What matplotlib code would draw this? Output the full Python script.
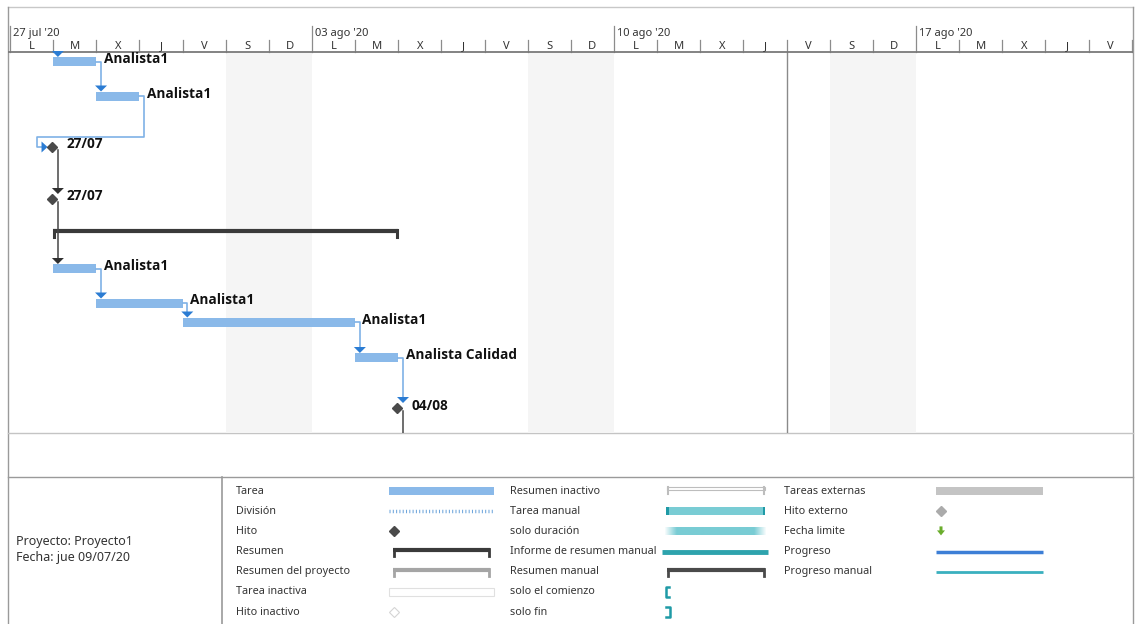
import numpy as np
import matplotlib
matplotlib.use("Agg")
import matplotlib.pyplot as plt
from matplotlib.patches import Rectangle, Polygon

plt.rcParams['font.family'] = ['Noto Sans', 'DejaVu Sans']
BOLD_FONT = ['Open Sans', 'DejaVu Sans']


# Timeline data (days counted from Monday 27 jul 2020)
week_labels = ["27 jul '20", "03 ago '20", "10 ago '20", "17 ago '20"]
day_letters = ["L", "M", "X", "J", "V", "S", "D"]
n_days = 26
weekend_days = [5, 6, 12, 13, 19, 20]
status_day = 18

# Tasks
task_names = ["Analista1", "Analista1", "27/07", "27/07", "", "Analista1",
              "Analista1", "Analista1", "Analista Calidad", "04/08"]
task_type = ["tarea", "tarea", "hito", "hito", "resumen", "tarea",
             "tarea", "tarea", "tarea", "hito"]
task_start = [1, 2, 1, 1, 1, 1, 2, 4, 8, 9]
task_finish = [2, 3, 1, 1, 9, 2, 4, 8, 9, 9]
links = [(0, 1), (1, 2), (2, 3), (3, 5), (5, 6), (6, 7), (7, 8), (8, 9)]

# Legend
legend_col1 = ["Tarea", "División", "Hito", "Resumen", "Resumen del proyecto",
               "Tarea inactiva", "Hito inactivo"]
legend_col2 = ["Resumen inactivo", "Tarea manual", "solo duración",
               "Informe de resumen manual", "Resumen manual",
               "solo el comienzo", "solo fin"]
legend_col3 = ["Tareas externas", "Hito externo", "Fecha limite", "Progreso",
               "Progreso manual"]
project_info = ["Proyecto: Proyecto1", "Fecha: jue 09/07/20"]


# layout (pixels)
W, H = 1135, 624
PX_DAY = 43.14
X0 = 10
row_y = [61.5, 96, 147, 199, 231, 268.5, 303, 322, 357.5, 408]
bar_h = 9
top_y, head_y, chart_bot, leg_top = 7, 52, 433, 477

BLUE = "#8ab9e9"
LINK_BLUE = "#7fb2e6"
ARROW_BLUE = "#2b7cd3"
DARK = "#474747"
GRID = "#8c8c8c"


def px2day(px):
    return (px - X0) / PX_DAY


fig = plt.figure(figsize=(W / 100, H / 100), dpi=100)

bg = fig.add_axes([0, 0, 1, 1])
bg.set_xlim(0, W)
bg.set_ylim(H, 0)
bg.axis("off")

ax = fig.add_axes([8 / W, (H - chart_bot) / H, (1133 - 8) / W, (chart_bot - top_y) / H])
ax.set_xlim(px2day(8), px2day(1133))
ax.set_ylim(chart_bot, top_y)
ax.axis("off")

# frame
bg.plot([8, 1133], [top_y, top_y], color="#c8c8c8", lw=1)
bg.plot([8, 8], [top_y, H], color="#9a9a9a", lw=1)
bg.plot([1133, 1133], [top_y, H], color="#9a9a9a", lw=1)
bg.plot([8, 1133], [chart_bot, chart_bot], color="#c4c4c4", lw=1)
bg.plot([8, 1133], [leg_top, leg_top], color="#9a9a9a", lw=1)
bg.plot([222, 222], [leg_top, H], color="#9a9a9a", lw=1.2)

# weekend shading + status line
for d in weekend_days:
    ax.add_patch(Rectangle((d, head_y), 1, chart_bot - head_y, fc="#f5f5f5", ec="none", zorder=0))
ax.plot([status_day, status_day], [head_y, chart_bot], color="#8a8a8a", lw=1, zorder=1)

# timescale header
for d in range(n_days + 1):
    if d % 7 == 0:
        ax.plot([d, d], [26, head_y], color=GRID, lw=0.9)
    else:
        ax.plot([d, d], [40, head_y], color=GRID, lw=0.9)
for d in range(n_days):
    ax.text(d + 0.5, 46.5, day_letters[d % 7], ha="center", va="center", fontsize=8, color="#333333")
for i, lab in enumerate(week_labels):
    ax.text(i * 7 + 0.06, 33.5, lab, ha="left", va="center", fontsize=8, color="#333333")
ax.plot([px2day(8), px2day(1133)], [head_y, head_y], color="#7a7a7a", lw=1.3)

hw = 6 / PX_DAY
ah = 6
off = 0.11


def arrow_down(x, ytip, color):
    ax.add_patch(Polygon([(x - hw, ytip - ah), (x + hw, ytip - ah), (x, ytip)], closed=True,
                         fc=color, ec="none", zorder=4))


def arrow_right(xtip, y, color):
    ax.add_patch(Polygon([(xtip - 6 / PX_DAY, y - 5.5), (xtip - 6 / PX_DAY, y + 5.5), (xtip, y)],
                         closed=True, fc=color, ec="none", zorder=4))


# links
for a, b in links:
    is_ms = task_type[a] == "hito"
    lc = DARK if is_ms else LINK_BLUE
    ac = "#303030" if is_ms else ARROW_BLUE
    xs = task_finish[a] + off
    ya = row_y[a]
    if task_type[b] == "hito":
        ytip = row_y[b] - 5
    else:
        ytip = row_y[b] - bar_h / 2
    if task_start[b] >= task_finish[a]:
        if is_ms:
            ax.plot([xs, xs], [ya + 3, ytip - 4], color=lc, lw=1.1, zorder=3)
        else:
            ax.plot([task_finish[a], xs, xs], [ya, ya, ytip - 4], color=lc, lw=1.2, zorder=3)
        arrow_down(xs, ytip, ac)
    else:
        ymid = row_y[b] - 10
        xl = task_start[b] - 0.37
        ax.plot([task_finish[a], xs, xs, xl, xl, task_start[b] - 0.25],
                [ya, ya, ymid, ymid, row_y[b], row_y[b]], color=lc, lw=1.2, zorder=3)
        arrow_right(task_start[b] - 0.13, row_y[b], ac)

# incoming link to first task and outgoing from last milestone
arrow_down(task_start[0] + off, row_y[0] - bar_h / 2, ARROW_BLUE)
ax.plot([task_finish[9] + off] * 2, [row_y[9] + 3, chart_bot], color=DARK, lw=1.1, zorder=3)

# bars, milestones, summary
for i in range(len(task_names)):
    y = row_y[i]
    if task_type[i] == "tarea":
        ax.add_patch(Rectangle((task_start[i], y - bar_h / 2), task_finish[i] - task_start[i], bar_h,
                               fc=BLUE, ec="none", zorder=2))
        ax.text(task_finish[i] + 0.17, y - 2.5, task_names[i], ha="left", va="center",
                fontsize=9.8, fontweight="bold", family=BOLD_FONT, color="#111111", zorder=5)
    elif task_type[i] == "hito":
        ax.plot(task_finish[i] - 0.02, y, marker="D", ms=5.5, color="#4a4a4a", zorder=5)
        ax.text(task_finish[i] + 0.3, y - 2.5, task_names[i], ha="left", va="center",
                fontsize=9.8, fontweight="bold", family=BOLD_FONT, color="#111111", zorder=5)
    else:
        ax.plot([task_start[i], task_finish[i]], [y, y], color="#3a3a3a", lw=3, zorder=2,
                solid_capstyle="butt")
        for xe in (task_start[i] + 0.02, task_finish[i] - 0.02):
            ax.plot([xe, xe], [y - 1, y + 6], color="#3a3a3a", lw=2.2, zorder=2)

# project info
for i, s in enumerate(project_info):
    bg.text(16, 541 + 16 * i, s, ha="left", va="center", fontsize=9, color="#333333")

# legend
ly = [491 + 20.2 * i for i in range(7)]
for labels, lx in ((legend_col1, 236), (legend_col2, 510), (legend_col3, 784)):
    for i, s in enumerate(labels):
        bg.text(lx, ly[i], s, ha="left", va="center", fontsize=7.8, color="#333333")


def bracket(x1, x2, y, color, lw=3):
    bg.plot([x1, x2], [y, y], color=color, lw=lw, solid_capstyle="butt")
    bg.plot([x1 + 1, x1 + 1], [y - 1, y + 6], color=color, lw=2)
    bg.plot([x2 - 1, x2 - 1], [y - 1, y + 6], color=color, lw=2)


# column 1
bg.add_patch(Rectangle((389, ly[0] - 4), 105, 8, fc=BLUE, ec="none"))
bg.plot([389, 494], [ly[1], ly[1]], color="#6fa6dc", lw=2.5, linestyle=(0, (0.3, 0.65)))
bg.plot(394, ly[2], marker="D", ms=5, color="#4a4a4a")
bracket(393, 490, ly[3] - 2, "#3a3a3a")
bracket(393, 490, ly[4] - 2, "#a5a5a5")
bg.add_patch(Rectangle((389, ly[5] - 4), 105, 8, fc="white", ec="#e0e0e0", lw=0.8))
bg.plot(394, ly[6], marker="D", ms=5, mfc="white", mec="#d5d5d5", mew=0.8)

# column 2
bg.add_patch(Rectangle((667, ly[0] - 4), 98, 3, fc="white", ec="#bdbdbd", lw=0.8))
bg.plot([668, 668], [ly[0] - 4, ly[0] + 3], color="#bdbdbd", lw=1.5)
bg.plot([764, 764], [ly[0] - 4, ly[0] + 3], color="#bdbdbd", lw=1.5)
bg.add_patch(Rectangle((666, ly[1] - 4), 99, 8, fc="#79ccd4", ec="none"))
bg.add_patch(Rectangle((666, ly[1] - 4), 2.5, 8, fc="#1f9aa6", ec="none"))
bg.add_patch(Rectangle((762.5, ly[1] - 4), 2.5, 8, fc="#1f9aa6", ec="none"))
grad = np.ones((1, 100, 4))
grad[..., 0], grad[..., 1], grad[..., 2] = 0x79 / 255, 0xcc / 255, 0xd4 / 255
ramp = np.clip(np.minimum(np.linspace(0, 1, 100) / 0.12, np.linspace(1, 0, 100) / 0.12), 0, 1)
grad[0, :, 3] = ramp
bg.imshow(grad, extent=(664, 767, ly[2] + 4, ly[2] - 4), aspect="auto", interpolation="bilinear")
bg.plot([662, 768], [ly[3], ly[3]], color="#2ea3ad", lw=3.5, solid_capstyle="butt")
bracket(667, 765, ly[4] - 2, "#4a4a4a")
bg.plot([669, 665.5, 665.5, 669], [ly[5] - 5, ly[5] - 5, ly[5] + 5, ly[5] + 5], color="#1f9aa6", lw=1.8)
bg.plot([666, 669.5, 669.5, 666], [ly[6] - 5, ly[6] - 5, ly[6] + 5, ly[6] + 5], color="#1f9aa6", lw=1.8)
bg.set_xlim(0, W)
bg.set_ylim(H, 0)

# column 3
bg.add_patch(Rectangle((936, ly[0] - 4), 107, 8, fc="#c4c4c4", ec="none"))
bg.plot(941, ly[1], marker="D", ms=5, color="#ababab")
gx, gy = 941, ly[2]
bg.add_patch(Polygon([(gx - 1.5, gy - 5), (gx + 1.5, gy - 5), (gx + 1.5, gy - 1), (gx + 4, gy - 1),
                      (gx, gy + 4), (gx - 4, gy - 1), (gx - 1.5, gy - 1)], closed=True,
                     fc="#6aad2c", ec="none"))
bg.plot([936, 1043], [ly[3], ly[3]], color="#3d7fd6", lw=2.5, solid_capstyle="butt")
bg.plot([936, 1043], [ly[4], ly[4]], color="#3ab0bf", lw=2, solid_capstyle="butt")

plt.savefig("out.png", dpi=100)
